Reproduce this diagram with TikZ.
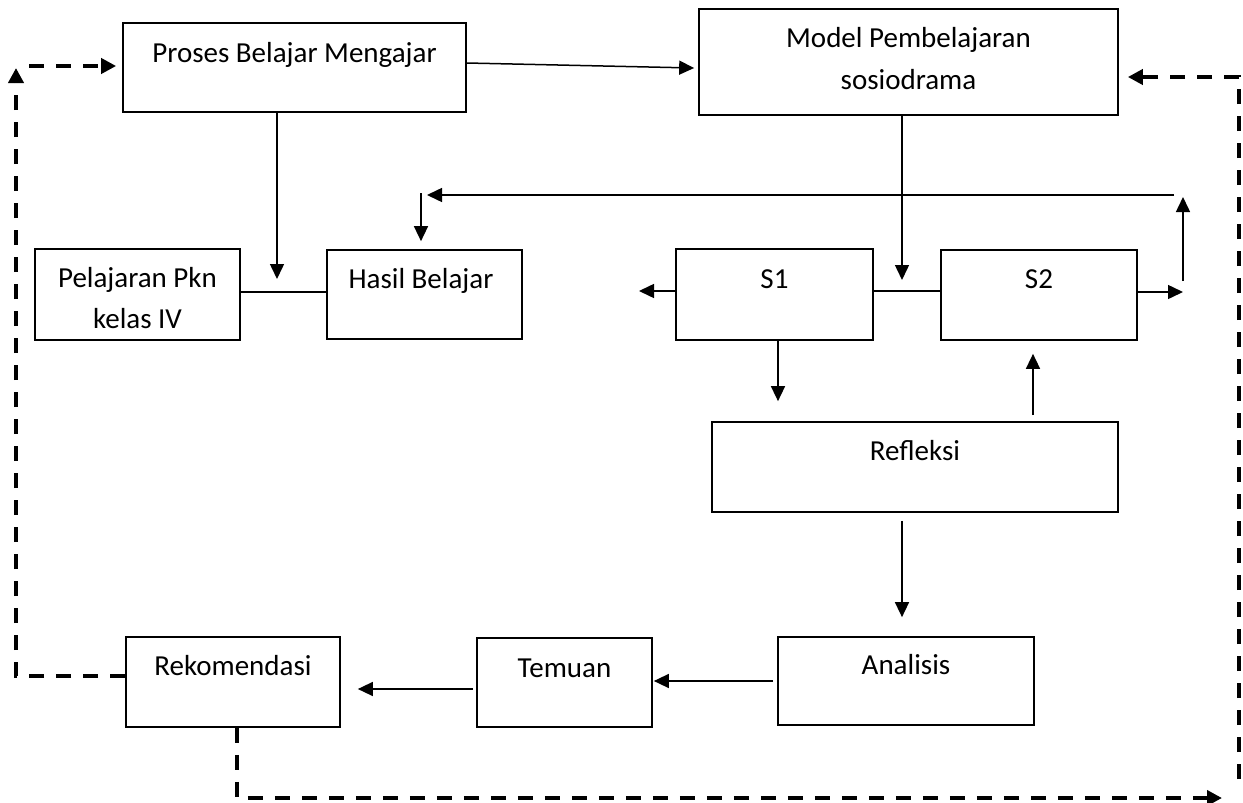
\documentclass[tikz,border=0pt]{standalone}
\usepackage{fontspec}
\setmainfont{Carlito}
\usetikzlibrary{arrows.meta}
\begin{document}
\begin{tikzpicture}[x=1pt,y=-1pt,
  box/.style={draw, line width=1.7pt, inner sep=0pt},
  lbl/.style={anchor=base, inner sep=0pt, font=\fontsize{29}{42}\selectfont},
  conn/.style={line width=1.5pt},
  arr/.style={conn, -{Triangle[length=15pt,width=14pt]}},
  dsh/.style={line width=4pt, dash pattern=on 15pt off 12pt},
  darr/.style={dsh, -{Triangle[length=15pt,width=15pt]}},
]
\useasboundingbox (0,0) rectangle (1243,803);

% boxes
\node[box, minimum width=343pt, minimum height=89pt]  (proses) at (294.5,67.5) {};
\node[box, minimum width=419pt, minimum height=106pt] (model)  at (908.5,62) {};
\node[box, minimum width=205pt, minimum height=91pt]  (pel)    at (137.5,294.5) {};
\node[box, minimum width=195pt, minimum height=89pt]  (hasil)  at (424.5,294.5) {};
\node[box, minimum width=197pt, minimum height=91pt]  (s1)     at (774.5,294.5) {};
\node[box, minimum width=196pt, minimum height=90pt]  (s2)     at (1039,295) {};
\node[box, minimum width=406pt, minimum height=90pt]  (refl)   at (915,467) {};
\node[box, minimum width=256pt, minimum height=88pt]  (anal)   at (906,681) {};
\node[box, minimum width=175pt, minimum height=89pt]  (tem)    at (564.5,682.5) {};
\node[box, minimum width=214pt, minimum height=90pt]  (rek)    at (233,682) {};

% labels
\node[lbl] (proses-t) at (294.5,62) {Proses Belajar Mengajar};
\node[lbl] (model-t1) at (908.5,47) {Model Pembelajaran};
\node[lbl] (model-t2) at (908.5,89) {sosiodrama};
\node[lbl] (pel-t1)   at (137.5,287) {Pelajaran Pkn};
\node[lbl] (pel-t2)   at (137.5,328) {kelas IV};
\node[lbl] (hasil-t)  at (421,288) {Hasil Belajar};
\node[lbl] (s1-t)     at (774.5,288) {S1};
\node[lbl] (s2-t)     at (1039,288) {S2};
\node[lbl] (refl-t)   at (915,460) {Refleksi};
\node[lbl] (anal-t)   at (906,674) {Analisis};
\node[lbl] (tem-t)    at (564.5,677) {Temuan};
\node[lbl] (rek-t)    at (233,675) {Rekomendasi};

% free ends
\coordinate (j1)   at (277,292);
\coordinate (j2)   at (902,291);
\coordinate (fbR)  at (1174,195);
\coordinate (fbL)  at (427,195);
\coordinate (fbD)  at (421,193);
\coordinate (s1L)  at (639,291);
\coordinate (s2R)  at (1183,292);
\coordinate (upB)  at (1183,281);
\coordinate (upT)  at (1183,197);
\coordinate (ltop) at (16,68);
\coordinate (lst)  at (29,66);
\coordinate (bl)   at (237,798);
\coordinate (br)   at (1222,798);
\coordinate (rb)   at (1239,779);
\coordinate (rt)   at (1239,77);

% solid connectors
\draw[arr] ([yshift=4.5pt]proses.east) -- ([yshift=-6pt,xshift=-4pt]model.west);
\draw[arr] ([xshift=-17.5pt]proses.south) -- ([yshift=13pt]j1);
\draw[conn] ([yshift=2.5pt]pel.east) -- ([yshift=2.5pt]hasil.west);
\draw[arr] (fbR) -- (fbL);
\draw[arr] (fbD) -- ([xshift=-3.5pt,yshift=8pt]hasil.north);
\draw[arr] ([xshift=-6.5pt]model.south) -- ([yshift=11pt]j2);
\draw[conn] ([yshift=3.5pt]s1.east) -- ([yshift=4pt]s2.west);
\draw[arr] ([yshift=3.5pt]s1.west) -- (s1L);
\draw[arr] ([yshift=3pt]s2.east) -- (s2R);
\draw[arr] (upB) -- (upT);
\draw[arr] ([xshift=3.5pt]s1.south) -- ([xshift=-137pt,yshift=20pt]refl.north);
\draw[arr] ([xshift=118pt,yshift=6pt]refl.north) -- ([xshift=-6pt,yshift=-13pt]s2.south);
\draw[arr] ([xshift=-13pt,yshift=-8pt]refl.south) -- ([xshift=-4pt,yshift=19pt]anal.north);
\draw[arr, shorten >=5pt] ([xshift=-4pt]anal.west) -- ([xshift=-4pt]anal.west -| tem.east);
\draw[arr, shorten >=17pt] ([xshift=-3pt,yshift=-6.5pt]tem.west) -- ([yshift=-6.5pt]tem.west -| rek.east);

% dashed connectors
\draw[darr] ([yshift=6pt]rek.west) -| (ltop);
\draw[darr, shorten >=6pt] (lst) -- (lst -| proses.west);
\draw[darr] ([xshift=4pt]rek.south) -- (bl) -- (br);
\draw[darr, shorten >=9pt] (rb) -- (rt) -- (rt -| model.east);
\end{tikzpicture}
\end{document}
